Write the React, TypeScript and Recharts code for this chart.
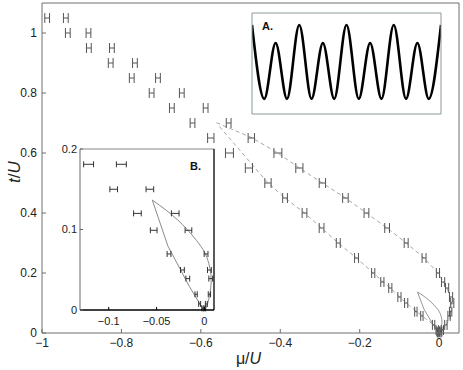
import React from 'react';
import { ComposedChart, LineChart, Line, Scatter, ErrorBar, XAxis, YAxis, Label } from 'recharts';

const FONT = "'Liberation Sans', Arial, Helvetica, sans-serif";
const AX = '#6e6e6e';
const TXT = '#222';

// ---------- main chart ----------
const mainXTicks = [-1, -0.8, -0.6, -0.4, -0.2, 0];
const mainYTicks = [0, 0.2, 0.4, 0.6, 0.8, 1];

const rowT = [1.05, 1.0, 0.95, 0.9, 0.85, 0.8, 0.75, 0.7, 0.65, 0.6, 0.55, 0.5, 0.45, 0.4, 0.35, 0.3, 0.25, 0.2, 0.17, 0.15, 0.12, 0.1, 0.071, 0.057, 0.027, 0.01, 0.005, 0.002];
const leftMu = [-0.987, -0.935, -0.882, -0.827, -0.774, -0.724, -0.673, -0.621, -0.575, -0.528, -0.479, -0.431, -0.388, -0.339, -0.296, -0.254, -0.208, -0.166, -0.143, -0.123, -0.1, -0.083, -0.0586, -0.0435, -0.014, -0.005, -0.003, -0.001];
const rightMu = [-0.94, -0.883, -0.824, -0.766, -0.708, -0.648, -0.588, -0.53, -0.473, -0.406, -0.352, -0.294, -0.236, -0.183, -0.131, -0.083, -0.038, -0.003, 0.01, 0.02, 0.03, 0.033, 0.029, 0.025, 0.017, 0.008, 0.004, 0.002];
const leftErr = [0.006, 0.006, 0.006, 0.006, 0.006, 0.006, 0.006, 0.006, 0.008, 0.01, 0.009, 0.008, 0.006, 0.006, 0.006, 0.005, 0.005, 0.004, 0.004, 0.004, 0.004, 0.004, 0.003, 0.003, 0.003, 0.003, 0.003, 0.003];
const rightErr = [0.006, 0.006, 0.006, 0.006, 0.006, 0.006, 0.006, 0.006, 0.008, 0.01, 0.009, 0.008, 0.007, 0.006, 0.006, 0.005, 0.005, 0.004, 0.004, 0.004, 0.004, 0.004, 0.003, 0.003, 0.003, 0.003, 0.003, 0.003];

const dashUpperMu = [-0.561, -0.473, -0.406, -0.352, -0.294, -0.236, -0.183, -0.131, -0.083, -0.038, -0.003, 0.02, 0.032, 0.028, 0.015, 0];
const dashUpperT = [0.701, 0.652, 0.6, 0.55, 0.5, 0.45, 0.4, 0.35, 0.3, 0.25, 0.2, 0.15, 0.1, 0.05, 0.02, 0];
const dashLowerMu = [-0.553, -0.431, -0.388, -0.339, -0.296, -0.254, -0.208, -0.166, -0.123, -0.083, -0.043, -0.014, 0];
const dashLowerT = [0.688, 0.5, 0.45, 0.4, 0.35, 0.3, 0.25, 0.2, 0.15, 0.1, 0.057, 0.027, 0];

// lobe (shared by main chart and inset B)
const lobeLeftMu = [-0.0545, -0.038, -0.0156, -0.005, 0];
const lobeLeftT = [0.1366, 0.079, 0.029, 0.008, 0];
const lobeRightMu = [-0.0545, -0.04, -0.028, -0.018, -0.008, 0.0, 0.0045, 0.0068, 0.0068, 0.0052, 0.0028, 0];
const lobeRightT = [0.1366, 0.124, 0.112, 0.1, 0.086, 0.072, 0.058, 0.044, 0.03, 0.017, 0.006, 0];

// ---------- inset A ----------
const waveX = [0, 0.52, 1, 1.48, 2, 2.52, 3, 3.48, 4, 4.52, 5, 5.48, 6, 6.52, 7, 7.48, 8];
const waveV = [1.28, -1.01, 0.72, -1.01, 1.28, -1.01, 0.72, -1.01, 1.28, -1.01, 0.72, -1.01, 1.28, -1.01, 0.72, -1.01, 1.28];
const waveXTicks = [2, 4, 6];
const waveYTicks = [-1, 0, 1];

// ---------- inset B ----------
const bXTicks = [-0.1, -0.05, 0];
const bYTicks = [0, 0.1, 0.2];
const bT = [0.181, 0.15, 0.12, 0.099, 0.0696, 0.0497, 0.039, 0.0195, 0.0075, 0.002];
const bLeftMu = [-0.121, -0.0948, -0.07, -0.053, -0.037, -0.023, -0.0174, -0.0087, -0.005, -0.002];
const bRightMu = [-0.0868, -0.057, -0.0305, -0.0167, 0.0017, 0.0052, 0.0066, 0.0052, 0.002, 0.0005];
const bErr = [0.0052, 0.004, 0.004, 0.0035, 0.002, 0.002, 0.002, 0.0012, 0.001, 0.0008];

const fmt = (v: number) => (v < 0 ? '\u2212' + String(Math.abs(v)) : String(v));
const pts = (xs: number[], ys: number[], es?: number[]) => xs.map((x, i) => ({ x, y: ys[i], e: es ? es[i] : 0 }));

const leftPts = pts(leftMu, rowT, leftErr);
const rightPts = pts(rightMu, rowT, rightErr);
const dashUpper = pts(dashUpperMu, dashUpperT);
const dashLower = pts(dashLowerMu, dashLowerT);
const lobeL = pts(lobeLeftMu, lobeLeftT);
const lobeR = pts(lobeRightMu, lobeRightT);
const waveData = waveX.map((x, i) => ({ x, v: waveV[i] }));
const bLeft = pts(bLeftMu, bT, bErr);
const bRight = pts(bRightMu, bT, bErr);

const NoShape = () => <g />;

const XTitle = (props: any) => {
  const vb = props.viewBox || { x: 42, y: 333, width: 417, height: 37 };
  const cx = vb.x + vb.width / 2 - 2;
  return (
    <text x={cx} y={vb.y + 31} textAnchor="middle" fontSize={16} fontFamily={FONT} fill={TXT}>
      <tspan>μ/</tspan>
      <tspan fontStyle="italic">U</tspan>
    </text>
  );
};

const tickStyle = { fill: TXT, fontSize: 12, fontFamily: FONT };
const bTickStyle = { fill: TXT, fontSize: 11, fontFamily: FONT };
const BOXA = '#8c9999';

export default function App() {
  return (
    <div style={{ position: 'absolute', left: 0, top: 0, width: 463, height: 370, background: '#fff', overflow: 'hidden' }}>
      <ComposedChart width={463} height={370} margin={{ top: 0, right: 0, bottom: 0, left: 0 }}>
        <XAxis type="number" dataKey="x" domain={[-1, 0.05]} ticks={mainXTicks} tickFormatter={fmt} interval={0}
          height={37} stroke={AX} tickSize={-4} tickMargin={9} tick={tickStyle} allowDataOverflow>
          <Label content={XTitle} />
        </XAxis>
        <XAxis xAxisId="top" orientation="top" type="number" domain={[-1, 0.05]} ticks={mainXTicks} interval={0}
          height={3} stroke={AX} tickSize={-4} tick={false} allowDataOverflow />
        <YAxis type="number" dataKey="y" domain={[0, 1.1]} ticks={mainYTicks} tickFormatter={fmt} interval={0}
          width={42} stroke={AX} tickSize={-4} tickMargin={9} tick={tickStyle} allowDataOverflow />
        <YAxis yAxisId="right" orientation="right" type="number" domain={[0, 1.1]} ticks={mainYTicks} interval={0}
          width={4} stroke={AX} tickSize={-4} tick={false} allowDataOverflow />
        <Line data={dashUpper} dataKey="y" type="linear" stroke="#a8a8a8" strokeDasharray="4 3" strokeWidth={1} dot={false} isAnimationActive={false} />
        <Line data={dashLower} dataKey="y" type="linear" stroke="#a8a8a8" strokeDasharray="4 3" strokeWidth={1} dot={false} isAnimationActive={false} />
        <Line data={lobeL} dataKey="y" type="linear" stroke="#8a8a8a" strokeWidth={0.9} dot={false} isAnimationActive={false} />
        <Line data={lobeR} dataKey="y" type="natural" stroke="#8a8a8a" strokeWidth={0.9} dot={false} isAnimationActive={false} />
        <Scatter data={leftPts} dataKey="y" shape={NoShape} isAnimationActive={false}>
          <ErrorBar dataKey="e" direction="x" width={5} stroke="#555" strokeWidth={1} isAnimationActive={false} />
        </Scatter>
        <Scatter data={rightPts} dataKey="y" shape={NoShape} isAnimationActive={false}>
          <ErrorBar dataKey="e" direction="x" width={5} stroke="#555" strokeWidth={1} isAnimationActive={false} />
        </Scatter>
      </ComposedChart>

      {/* y-axis title */}
      <svg style={{ position: 'absolute', left: 0, top: 130, width: 30, height: 90 }} width={30} height={90}>
        <text x={20} y={42} transform="rotate(-90 20 42)" textAnchor="middle" fontSize={17} fontFamily={FONT} fill={TXT}>
          <tspan fontStyle="italic">t</tspan>
          <tspan>/</tspan>
          <tspan fontStyle="italic">U</tspan>
        </text>
      </svg>

      {/* Inset A */}
      <div style={{ position: 'absolute', left: 251, top: 12, width: 191, height: 103, background: '#fff' }}>
        <LineChart width={191} height={103} data={waveData} margin={{ top: 0, right: 0, bottom: 0, left: 0 }}>
          <XAxis type="number" dataKey="x" domain={[0, 8]} ticks={waveXTicks} height={1} tick={false} tickSize={-3} stroke={BOXA} allowDataOverflow />
          <XAxis xAxisId="t" orientation="top" type="number" domain={[0, 8]} ticks={waveXTicks} height={1} tick={false} tickSize={-3} stroke={BOXA} allowDataOverflow />
          <YAxis type="number" domain={[-1.48, 1.65]} ticks={waveYTicks} width={1} tick={false} tickSize={-3} stroke={BOXA} allowDataOverflow />
          <YAxis yAxisId="r" orientation="right" type="number" domain={[-1.48, 1.65]} ticks={waveYTicks} width={1} tick={false} tickSize={-3} stroke={BOXA} allowDataOverflow />
          <Line dataKey="v" type="monotone" stroke="#000" strokeWidth={2.6} dot={false} isAnimationActive={false} />
        </LineChart>
      </div>
      <div style={{ position: 'absolute', left: 262, top: 21, fontFamily: FONT, fontWeight: 'bold', fontSize: 11, lineHeight: '11px', color: '#111' }}>A.</div>

      {/* Inset B */}
      <div style={{ position: 'absolute', left: 80, top: 149, width: 134, height: 161, background: '#fff' }} />
      <div style={{ position: 'absolute', left: 40, top: 140, width: 180, height: 190 }}>
        <ComposedChart width={180} height={190} margin={{ top: 7, right: 4, bottom: 0, left: 10 }}>
          <XAxis type="number" dataKey="x" domain={[-0.13, 0.01]} ticks={bXTicks} tickFormatter={fmt} interval={0}
            height={20} axisLine={{ stroke: '#000', strokeWidth: 1.3 }} tickLine={{ stroke: '#000' }} tickSize={-3} tickMargin={10} tick={bTickStyle} allowDataOverflow />
          <XAxis xAxisId="t" orientation="top" type="number" domain={[-0.13, 0.01]} ticks={bXTicks} interval={0}
            height={2} stroke="#888" tickSize={-3} tick={false} allowDataOverflow />
          <YAxis type="number" dataKey="y" domain={[0, 0.2]} ticks={bYTicks} tickFormatter={fmt} interval={0}
            width={30} stroke="#666" tickSize={-3} tickMargin={6} tick={bTickStyle} allowDataOverflow />
          <YAxis yAxisId="r" orientation="right" type="number" domain={[0, 0.2]} ticks={bYTicks} interval={0}
            width={2} axisLine={{ stroke: '#000', strokeWidth: 1.3 }} tickLine={{ stroke: '#000' }} tickSize={-3} tick={false} allowDataOverflow />
          <Line data={lobeL} dataKey="y" type="linear" stroke="#8a8a8a" strokeWidth={1} dot={false} isAnimationActive={false} />
          <Line data={lobeR} dataKey="y" type="natural" stroke="#8a8a8a" strokeWidth={1} dot={false} isAnimationActive={false} />
          <Scatter data={bLeft} dataKey="y" shape={NoShape} isAnimationActive={false}>
            <ErrorBar dataKey="e" direction="x" width={3} stroke="#333" strokeWidth={1} isAnimationActive={false} />
          </Scatter>
          <Scatter data={bRight} dataKey="y" shape={NoShape} isAnimationActive={false}>
            <ErrorBar dataKey="e" direction="x" width={3} stroke="#333" strokeWidth={1} isAnimationActive={false} />
          </Scatter>
        </ComposedChart>
      </div>
      <div style={{ position: 'absolute', left: 190, top: 161, fontFamily: FONT, fontWeight: 'bold', fontSize: 11, lineHeight: '11px', color: '#111' }}>B.</div>
    </div>
  );
}
